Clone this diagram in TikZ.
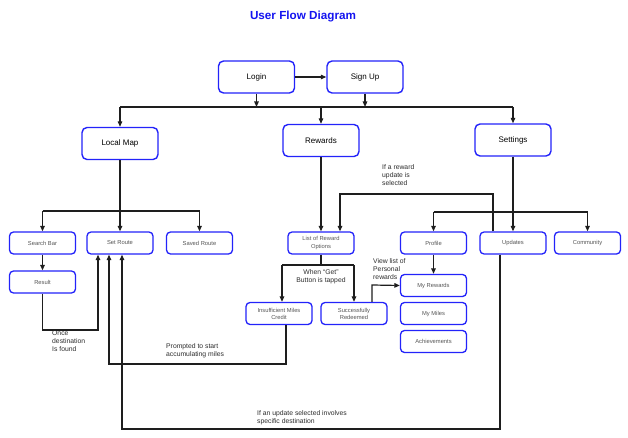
\documentclass[tikz,border=0pt]{standalone}
\usepackage{fontspec}
\setmainfont{Liberation Sans}
\usetikzlibrary{arrows.meta}
\definecolor{boxblue}{RGB}{35,35,250}
\definecolor{ttl}{RGB}{20,20,240}
\definecolor{smalltxt}{RGB}{85,85,85}
\definecolor{lbl}{RGB}{45,45,45}
\definecolor{lncol}{RGB}{30,30,30}
\begin{document}
\begin{tikzpicture}[x=1pt,y=-1pt,
  bigbox/.style={draw=boxblue,line width=1.4pt,rounded corners=5pt,minimum width=76pt,minimum height=32pt,inner sep=0pt,font=\fontsize{8}{9}\selectfont,text=black},
  smallbox/.style={draw=boxblue,line width=1.3pt,rounded corners=4pt,minimum width=66pt,minimum height=22pt,inner sep=0pt,align=center,font=\fontsize{5.8}{7}\selectfont,text=smalltxt},
  lab/.style={inner sep=0pt,align=left,font=\fontsize{6.8}{8}\selectfont,text=lbl},
  ln/.style={draw=lncol,line width=1.2pt},
  arr/.style={ln,-{Triangle[length=5.5pt,width=4.5pt]}}]
\useasboundingbox (0,0) rectangle (628,438);
\fill[white] (0,0) rectangle (628,438);
% title
\node[font=\bfseries\fontsize{11.7}{13}\selectfont,text=ttl] (title) at (303,17) {User Flow Diagram};
% big boxes
\node[bigbox] (login) at (256.5,77) {Login};
\node[bigbox] (signup) at (365,77) {Sign Up};
\node[bigbox] (localmap) at (120,143.5) {Local Map};
\node[bigbox] (rewards) at (321,140.5) {Rewards};
\node[bigbox] (settings) at (513,140) {Settings};
% small boxes
\node[smallbox] (searchbar) at (42.5,243) {Search Bar};
\node[smallbox] (setroute) at (120,243) {Set Route};
\node[smallbox] (savedroute) at (199.5,243) {Saved Route};
\node[smallbox] (result) at (42.5,282) {Result};
\node[smallbox] (list) at (321,243) {List of Reward\\Options};
\node[smallbox] (profile) at (433.5,243) {Profile};
\node[smallbox] (updates) at (513,243) {Updates};
\node[smallbox] (community) at (587.5,243) {Community};
\node[smallbox] (insuff) at (279,313.5) {Insufficient Miles\\Credit};
\node[smallbox] (success) at (354,313.5) {Successfully\\Redeemed};
\node[smallbox] (myrewards) at (433.5,285.5) {My Rewards};
\node[smallbox] (mymiles) at (433.5,313.5) {My Miles};
\node[smallbox] (achieve) at (433.5,341.5) {Achievements};
% helper coordinates
\coordinate (busA) at (120,107);
\coordinate (busAR) at (513,107);
\coordinate (busB) at (0,211);
\coordinate (busC) at (0,212);
\coordinate (loopR) at (0,194);
\coordinate (getY) at (0,265);
\coordinate (onceY) at (0,330);
\coordinate (promptY) at (0,364);
\coordinate (updY) at (0,429);
\coordinate (viewY) at (0,285);
% top connectors
\draw[arr] (login.east) -- (signup.west);
\draw[ln] (busA) -- (busAR);
\draw[arr] (login.south) -- (login.south |- busA);
\draw[arr] (signup.south) -- (signup.south |- busA);
\draw[arr] (busA) -- (localmap.north);
\draw[arr] (rewards.north |- busA) -- (rewards.north);
\draw[arr] (busAR) -- (settings.north);
% local map branch
\draw[ln] (searchbar.north |- busB) -- (savedroute.north |- busB);
\draw[arr] (localmap.south) -- (setroute.north);
\draw[arr] (searchbar.north |- busB) -- (searchbar.north);
\draw[arr] (savedroute.north |- busB) -- (savedroute.north);
\draw[arr] (searchbar.south) -- (result.north);
\draw[arr] (result.south) -- (result.south |- onceY) -| ([xshift=-22pt]setroute.south);
\node[lab,anchor=north west] (oncelbl) at (52,331) {Once\\destination\\Is found};
% rewards branch
\draw[arr] (rewards.south) -- (list.north);
\draw[ln] (list.south) -- (list.south |- getY);
\draw[ln] ([xshift=3pt]insuff.north |- getY) -- (success.north |- getY);
\draw[arr] ([xshift=3pt]insuff.north |- getY) -- ([xshift=3pt]insuff.north);
\draw[arr] (success.north |- getY) -- (success.north);
\node[lab,align=center] (getlbl) at (321,276.5) {When “Get”\\Button is tapped};
\draw[arr] (insuff.south) ++(7pt,0) coordinate (insB) (insB) -- (insB |- promptY) -| ([xshift=-11pt]setroute.south);
\node[lab,anchor=north west] (promptlbl) at (166,343) {Prompted to start\\accumulating miles};
\draw[arr] ([xshift=18pt]success.north) -- ([xshift=18pt]success.north |- viewY) -- (myrewards.west);
\node[lab,anchor=north west] (viewlbl) at (373,258) {View list of\\Personal\\rewards};
% settings branch
\draw[ln] (profile.north |- busC) -- (community.north |- busC);
\draw[arr] (settings.south) -- (updates.north);
\draw[arr] (profile.north |- busC) -- (profile.north);
\draw[arr] (community.north |- busC) -- (community.north);
\draw[arr] (profile.south) -- (myrewards.north);
\draw[arr] ([xshift=-20pt]updates.north) -- ([xshift=-20pt]updates.north |- loopR) -| ([xshift=19pt]list.north);
\node[lab,anchor=north west] (rewlbl) at (382,164) {If a reward\\update is\\selected};
\draw[arr] ([xshift=-13pt]updates.south) -- ([xshift=-13pt]updates.south |- updY) -| ([xshift=2pt]setroute.south);
\node[lab,anchor=north west] (updlbl) at (257,410) {If an update selected involves\\specific destination};
\end{tikzpicture}
\end{document}
